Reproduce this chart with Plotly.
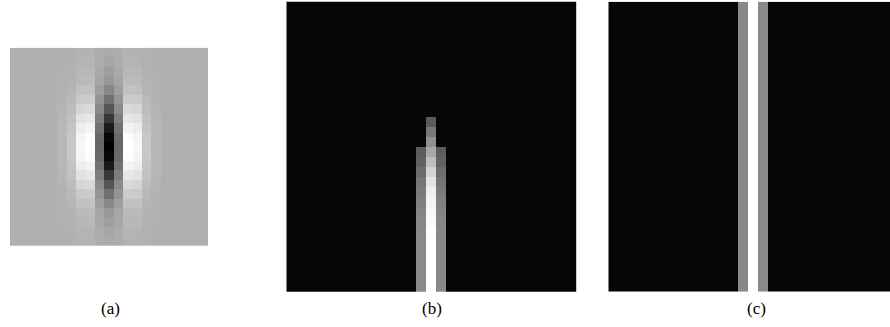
import plotly.graph_objects as go

W, H = 890, 327

# (a) Gabor-like kernel, 21 x 21 gray levels (0 = black, 255 = white)
GABOR = [
    [176,176,176,176,176,176,177,179,179,173,171,173,179,179,177,176,176,176,176,176,176],
    [176,176,176,176,176,176,177,180,181,172,166,172,181,180,177,176,176,176,176,176,176],
    [176,176,176,176,176,177,178,183,184,169,159,169,184,183,178,177,176,176,176,176,176],
    [176,176,176,176,176,177,179,186,187,166,152,166,187,186,179,177,176,176,176,176,176],
    [176,176,176,176,176,178,181,193,194,159,136,159,194,193,181,178,176,176,176,176,176],
    [176,176,176,176,176,179,185,202,204,149,113,149,204,202,185,179,176,176,176,176,176],
    [176,176,176,176,176,180,188,213,217,138, 85,138,217,213,188,180,176,176,176,176,176],
    [176,176,176,176,176,182,193,226,231,125, 55,125,231,226,193,182,176,176,176,176,176],
    [176,176,176,176,176,183,196,237,243,113, 26,113,243,237,196,183,176,176,176,176,176],
    [176,176,176,176,176,184,199,245,252,105,  7,105,252,245,199,184,176,176,176,176,176],
    [176,176,176,176,176,184,200,248,255,102,  0,102,255,248,200,184,176,176,176,176,176],
    [176,176,176,176,176,184,199,245,252,105,  7,105,252,245,199,184,176,176,176,176,176],
    [176,176,176,176,176,183,196,237,243,113, 26,113,243,237,196,183,176,176,176,176,176],
    [176,176,176,176,176,182,193,226,231,125, 55,125,231,226,193,182,176,176,176,176,176],
    [176,176,176,176,176,180,188,213,217,138, 85,138,217,213,188,180,176,176,176,176,176],
    [176,176,176,176,176,179,185,202,204,149,113,149,204,202,185,179,176,176,176,176,176],
    [176,176,176,176,176,178,181,193,194,159,136,159,194,193,181,178,176,176,176,176,176],
    [176,176,176,176,176,177,179,186,187,166,152,166,187,186,179,177,176,176,176,176,176],
    [176,176,176,176,176,177,178,183,184,169,159,169,184,183,178,177,176,176,176,176,176],
    [176,176,176,176,176,176,177,180,181,172,166,172,181,180,177,176,176,176,176,176,176],
    [176,176,176,176,176,176,177,179,179,173,171,173,179,179,177,176,176,176,176,176,176],
]

# (b) response map: 29 columns, 30 rows; stripe values per row
BLACK = 6
B_CENTER = [6, 6, 6, 6, 6, 6, 6, 6, 6, 6, 6, 6,
            90, 120, 144, 168, 190, 212, 228, 239, 245, 249, 252,
            255, 255, 255, 255, 255, 255, 255]
B_SIDE = [6, 6, 6, 6, 6, 6, 6, 6, 6, 6, 6, 6, 6, 6, 6,
          92, 98, 108, 116, 122, 128, 132, 135,
          137, 137, 137, 137, 137, 137, 137]

# (c) response map: full-height stripe
C_CENTER = [255]
C_SIDE = [137]

LABELS = ["(a)", "(b)", "(c)"]
NCOLS = 29
MID = 14


def stripe_matrix(center, side):
    rows = []
    for c, s in zip(center, side):
        row = [BLACK] * NCOLS
        row[MID] = c
        row[MID - 1] = s
        row[MID + 1] = s
        rows.append(row)
    return rows


def dom_x(x0, x1):
    return [x0 / W, min(x1, W) / W]


def dom_y(top, bottom):
    return [(H - bottom) / H, (H - top) / H]


GRAY = [[0, "rgb(0,0,0)"], [1, "rgb(255,255,255)"]]

fig = go.Figure()

fig.add_trace(go.Heatmap(z=GABOR, colorscale=GRAY, zmin=0, zmax=255, showscale=False,
                         xaxis="x", yaxis="y", hoverinfo="skip"))
fig.add_trace(go.Heatmap(z=stripe_matrix(B_CENTER, B_SIDE), colorscale=GRAY, zmin=0, zmax=255,
                         showscale=False, xaxis="x2", yaxis="y2", hoverinfo="skip"))
fig.add_trace(go.Heatmap(z=stripe_matrix(C_CENTER, C_SIDE), colorscale=GRAY, zmin=0, zmax=255,
                         showscale=False, xaxis="x3", yaxis="y3", hoverinfo="skip"))

hidden = dict(visible=False, showgrid=False, zeroline=False, fixedrange=True)

c_left = 608.3
c_span = (W - c_left) / 10.0

fig.update_layout(
    width=W, height=H,
    margin=dict(l=0, r=0, t=0, b=0),
    paper_bgcolor="white", plot_bgcolor="white",
    showlegend=False,
    xaxis=dict(domain=dom_x(10, 208), range=[-0.5, 20.5], **hidden),
    yaxis=dict(domain=dom_y(47.7, 246), range=[20.5, -0.5], **hidden),
    xaxis2=dict(domain=dom_x(286.3, 576.7), range=[-0.5, 28.5], **hidden),
    yaxis2=dict(domain=dom_y(1.7, 291.7), range=[29, 0], **hidden),
    xaxis3=dict(domain=dom_x(c_left, W), range=[-0.5, -0.5 + c_span], **hidden),
    yaxis3=dict(domain=dom_y(1.7, 291.7), range=[0.5, -0.5], **hidden),
)

label_x = [110, 431.5, 756]
for lx, txt in zip(label_x, LABELS):
    fig.add_annotation(x=lx / W, y=(H - 308) / H, xref="paper", yref="paper",
                       text=txt, showarrow=False, xanchor="center", yanchor="middle",
                       font=dict(family="Liberation Serif, DejaVu Serif, serif", size=17, color="black"))

fig.write_html("out.html")
